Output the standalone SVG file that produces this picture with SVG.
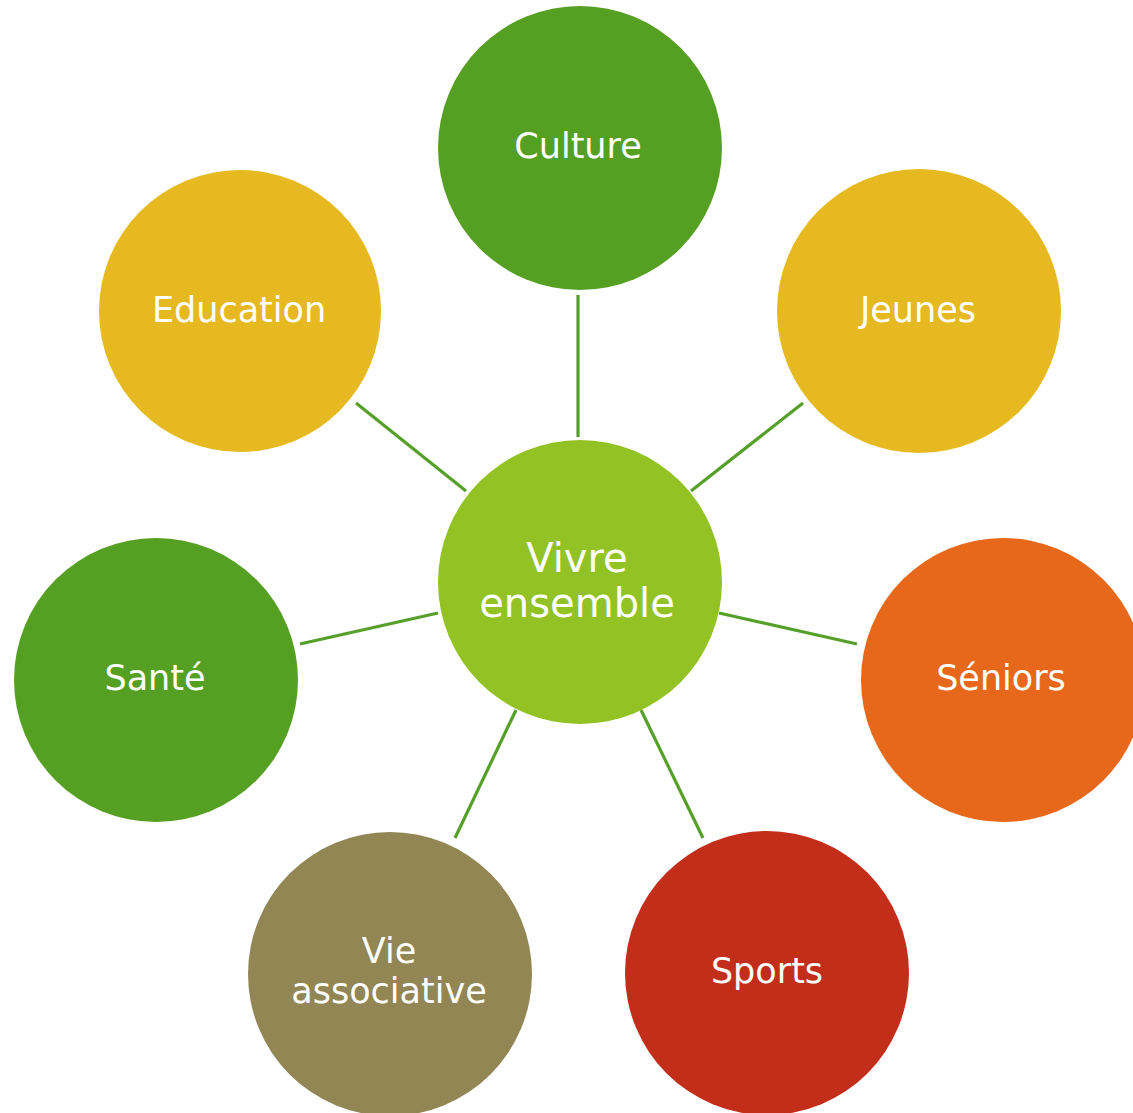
<svg xmlns="http://www.w3.org/2000/svg" width="1133" height="1113" viewBox="0 0 1133 1113">
<style>
.lbl{font-family:"DejaVu Sans","Liberation Sans",sans-serif;font-size:35px;fill:#ffffff;text-anchor:middle}
.big{font-size:40px}
.conn line{stroke:#56a02a;stroke-width:3.2}
</style>
<rect width="1133" height="1113" fill="#ffffff"/>
<g id="connectors" class="conn">
<line x1="578" y1="295" x2="578" y2="437"/>
<line x1="356" y1="403" x2="466" y2="491"/>
<line x1="803" y1="403" x2="691" y2="491"/>
<line x1="300" y1="644" x2="438" y2="613"/>
<line x1="719" y1="613" x2="857" y2="644"/>
<line x1="455" y1="838" x2="516" y2="710"/>
<line x1="641" y1="710" x2="703" y2="838"/>
</g>
<g id="culture"><circle cx="580" cy="148" r="142" fill="#55a023"/><text class="lbl" x="578" y="158">Culture</text></g>
<g id="education"><circle cx="240" cy="311" r="141" fill="#e5b91f"/><text class="lbl" x="239" y="322">Education</text></g>
<g id="jeunes"><circle cx="919" cy="311" r="142" fill="#e5b91f"/><text class="lbl" x="918" y="322">Jeunes</text></g>
<g id="center"><circle cx="580" cy="582" r="142" fill="#93c225"/><text class="lbl big" x="577" y="572">Vivre</text><text class="lbl big" x="577" y="617">ensemble</text></g>
<g id="sante"><circle cx="156" cy="680" r="142" fill="#55a023"/><text class="lbl" x="155" y="690">Santé</text></g>
<g id="seniors"><circle cx="1003" cy="680" r="142" fill="#e7681a"/><text class="lbl" x="1001" y="690">Séniors</text></g>
<g id="vie-associative"><circle cx="390" cy="974" r="142" fill="#928654"/><text class="lbl" x="389" y="963">Vie</text><text class="lbl" x="389" y="1003">associative</text></g>
<g id="sports"><circle cx="767" cy="973" r="142" fill="#c32e1a"/><text class="lbl" x="767" y="983">Sports</text></g>
</svg>
